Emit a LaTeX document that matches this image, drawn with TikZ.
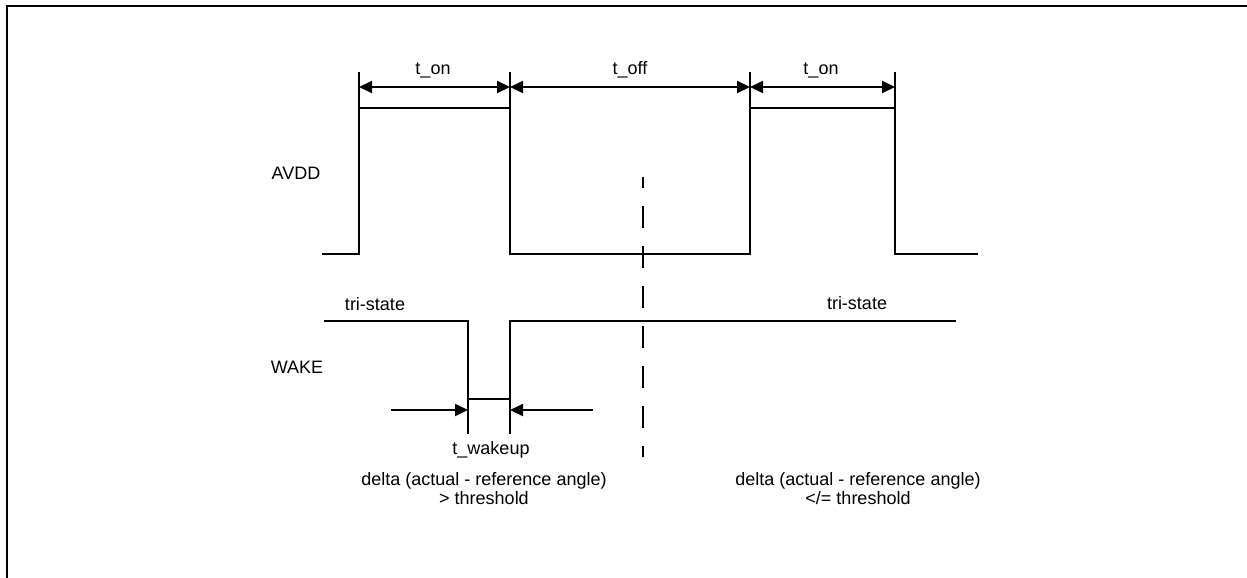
\documentclass[tikz,border=0pt]{standalone}
\usepackage{fontspec}
\setmainfont{Liberation Sans}
\usetikzlibrary{arrows.meta}
\begin{document}
\begin{tikzpicture}[x=1pt,y=-1pt,
  wave/.style={line width=2pt},
  tip/.tip={Triangle[length=13pt,width=12pt]},
  dimarrow/.style={line width=2pt,-tip},
  dimboth/.style={line width=2pt,tip-tip},
  lbl/.style={font=\fontsize{18}{19}\selectfont, inner sep=0pt, align=center}]
\useasboundingbox (0,0) rectangle (1247,578);
% frame
\draw[wave] (7,578) -- (7,6) -- (1247,6);
% AVDD waveform
\draw[wave] (322,254) -- (359,254) -- (359,108) -- (510,108) -- (510,254) -- (750,254) -- (750,108) -- (895,108) -- (895,254) -- (978,254);
% extension ticks
\draw[wave] (359,72) -- (359,115);
\draw[wave] (510,72) -- (510,108);
\draw[wave] (750,72) -- (750,108);
\draw[wave] (895,72) -- (895,108);
% dimension coordinates
\coordinate (e1) at (359,87);
\coordinate (e2) at (510,87);
\coordinate (e3) at (750,87);
\coordinate (e4) at (895,87);
\draw[dimboth] (e1) -- (e2);
\draw[dimboth] (e2) -- (e3);
\draw[dimboth] (e3) -- (e4);
\node[lbl] (ton1) at (433,70) {t\_on};
\node[lbl] (toff) at (630,70) {t\_off};
\node[lbl] (ton2) at (821,70) {t\_on};
\node[lbl] (avdd) at (296,173) {AVDD};
% WAKE waveform
\draw[wave] (324,321) -- (468,321) -- (468,434);
\draw[wave] (468,399) -- (510,399);
\draw[wave] (510,434) -- (510,321) -- (956,321);
\node[lbl] (wake) at (297,367) {WAKE};
\node[lbl] (tri1) at (375,304) {tri-state};
\node[lbl] (tri2) at (857,303) {tri-state};
% t_wakeup arrows
\coordinate (wl) at (391,410);
\coordinate (wlt) at (468,410);
\coordinate (wr) at (593,410);
\coordinate (wrt) at (510,410);
\draw[dimarrow] (wl) -- (wlt);
\draw[dimarrow] (wr) -- (wrt);
\node[lbl] (twake) at (491,450) {t\_wakeup};
% dashed divider
\coordinate (d1) at (643,177);
\coordinate (d2) at (643,457);
\draw[line width=2pt, dash pattern=on 22pt off 18pt, dash phase=11pt] (d1) -- (d2);
% condition labels
\node[lbl] (condl) at (484,489) {delta (actual - reference angle)\\> threshold};
\node[lbl] (condr) at (858,489) {delta (actual - reference angle)\\</= threshold};
\end{tikzpicture}
\end{document}
